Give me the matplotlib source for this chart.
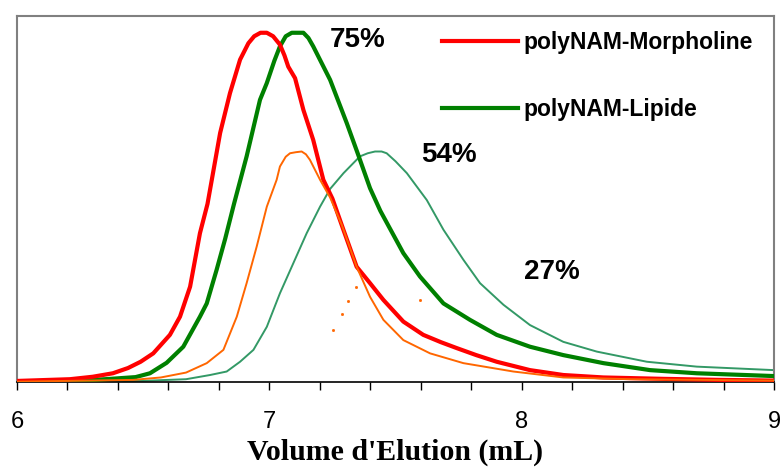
import matplotlib
matplotlib.use("Agg")
import matplotlib.pyplot as plt

# elution volume (mL) / normalised detector signal
morph_x = [6.0, 6.21, 6.30, 6.38, 6.44, 6.49, 6.54, 6.606, 6.646, 6.686, 6.725, 6.755, 6.772,
           6.805, 6.844, 6.884, 6.917, 6.94, 6.965, 6.99, 7.015, 7.042, 7.06, 7.075, 7.102,
           7.135, 7.174, 7.214, 7.25, 7.294, 7.346, 7.399, 7.452, 7.531, 7.61, 7.68, 7.743,
           7.82, 7.901, 8.033, 8.165, 8.324, 8.562, 8.786, 9.0]
morph_y = [0.003, 0.008, 0.015, 0.025, 0.04, 0.058, 0.082, 0.135, 0.187, 0.273, 0.426, 0.51,
           0.579, 0.713, 0.827, 0.923, 0.970, 0.99, 1.0, 1.0, 0.99, 0.966, 0.935, 0.903,
           0.870, 0.779, 0.693, 0.579, 0.525, 0.435, 0.330, 0.283, 0.235, 0.173, 0.135,
           0.114, 0.097, 0.077, 0.058, 0.034, 0.020, 0.013, 0.009, 0.006, 0.004]

lip_x = [6.0, 6.26, 6.37, 6.47, 6.527, 6.593, 6.659, 6.725, 6.752, 6.791, 6.825, 6.86,
         6.91, 6.963, 6.99, 7.02, 7.042, 7.065, 7.089, 7.135, 7.155, 7.174, 7.241, 7.307,
         7.35, 7.399, 7.44, 7.47, 7.531, 7.597, 7.69, 7.795, 7.901, 8.033, 8.165, 8.324,
         8.509, 8.694, 9.0]
lip_y = [0.002, 0.004, 0.009, 0.014, 0.025, 0.055, 0.101, 0.187, 0.225, 0.321, 0.41, 0.51,
         0.646, 0.808, 0.856, 0.92, 0.961, 0.99, 1.0, 1.0, 0.985, 0.961, 0.865, 0.741,
         0.655, 0.555, 0.49, 0.45, 0.369, 0.302, 0.225, 0.178, 0.135, 0.101, 0.077, 0.054,
         0.034, 0.025, 0.017]

morph27_x = [6.0, 6.46, 6.57, 6.67, 6.752, 6.818, 6.871, 6.91, 6.95, 6.99, 7.029, 7.042,
             7.065, 7.082, 7.105, 7.128, 7.145, 7.161, 7.201, 7.241, 7.287, 7.346, 7.399,
             7.452, 7.531, 7.637, 7.769, 7.967, 8.165, 8.43, 9.0]
morph27_y = [0.001, 0.006, 0.013, 0.027, 0.054, 0.092, 0.187, 0.283, 0.388, 0.502, 0.579,
             0.617, 0.645, 0.655, 0.658, 0.660, 0.652, 0.636, 0.579, 0.528, 0.450, 0.330,
             0.244, 0.178, 0.120, 0.082, 0.054, 0.030, 0.013, 0.008, 0.004]

lip54_x = [6.0, 6.49, 6.67, 6.765, 6.831, 6.884, 6.937, 6.99, 7.042, 7.095, 7.148, 7.201,
           7.241, 7.294, 7.359, 7.39, 7.419, 7.445, 7.465, 7.5, 7.545, 7.624, 7.69, 7.769,
           7.835, 7.928, 8.033, 8.165, 8.298, 8.496, 8.694, 9.0]
lip54_y = [0.0, 0.003, 0.008, 0.020, 0.030, 0.058, 0.092, 0.158, 0.254, 0.340, 0.426, 0.502,
           0.553, 0.598, 0.646, 0.655, 0.660, 0.660, 0.655, 0.632, 0.598, 0.521, 0.436,
           0.350, 0.283, 0.221, 0.163, 0.115, 0.087, 0.058, 0.044, 0.034]

# stray points of the orange trace
stray_x = [7.254, 7.287, 7.313, 7.344, 7.597]
stray_y = [0.149, 0.195, 0.233, 0.273, 0.235]

pct_labels = ["75%", "54%", "27%"]
pct_x = [7.35, 7.71, 8.12]
pct_y = [0.98, 0.65, 0.315]

RED = "#FF0000"
GREEN = "#008000"
ORANGE = "#FF6600"
TEAL = "#339966"

fig = plt.figure(figsize=(7.8, 4.68), dpi=100)
ax = fig.add_axes([17 / 780, 86 / 468, 757 / 780, 366 / 468])

ax.plot(lip54_x, lip54_y, color=TEAL, lw=1.4, zorder=2)
ax.plot(lip_x, lip_y, color=GREEN, lw=3, zorder=3, label="polyNAM-Lipide")
ax.plot(morph_x, morph_y, color=RED, lw=3, zorder=4, label="polyNAM-Morpholine")
ax.plot(morph27_x, morph27_y, color=ORANGE, lw=1.4, zorder=5)
ax.plot(stray_x, stray_y, ls="none", marker="s", ms=1.0, color=ORANGE, zorder=5)

for t, x, y in zip(pct_labels, pct_x, pct_y):
    ax.text(x, y, t, ha="center", va="center", fontsize=20, fontweight="bold",
            family="Liberation Sans")

ax.set_xlim(6, 9)
ax.set_ylim(0, 1.048)
ax.set_xticks([6, 7, 8, 9])
ax.set_xticks([6 + 0.2 * i for i in range(16)], minor=True)
ax.set_yticks([])
ax.tick_params(axis="x", which="both", direction="out", length=6, width=1, color="black")
ax.tick_params(axis="x", which="major", pad=15, labelsize=17)
for lab in ax.get_xticklabels():
    lab.set_family("Liberation Sans")

for s in ["left", "top", "right"]:
    ax.spines[s].set_color("#808080")
    ax.spines[s].set_linewidth(1.5)
ax.spines["bottom"].set_color("black")
ax.spines["bottom"].set_linewidth(1.2)

ax.set_xlabel("Volume d'Elution (mL)", fontsize=21.5, fontweight="bold",
              family="Liberation Serif", labelpad=4)

h, l = ax.get_legend_handles_labels()
leg = fig.legend(h[::-1], l[::-1], loc="upper left", bbox_to_anchor=(442 / 780, 1 - 31 / 468),
                 frameon=False, borderpad=0, borderaxespad=0, handlelength=3.3,
                 handletextpad=0.25, labelspacing=1.9,
                 prop={"family": "Liberation Sans", "weight": "bold", "size": 16.5})

fig.savefig("out.png", dpi=100)
